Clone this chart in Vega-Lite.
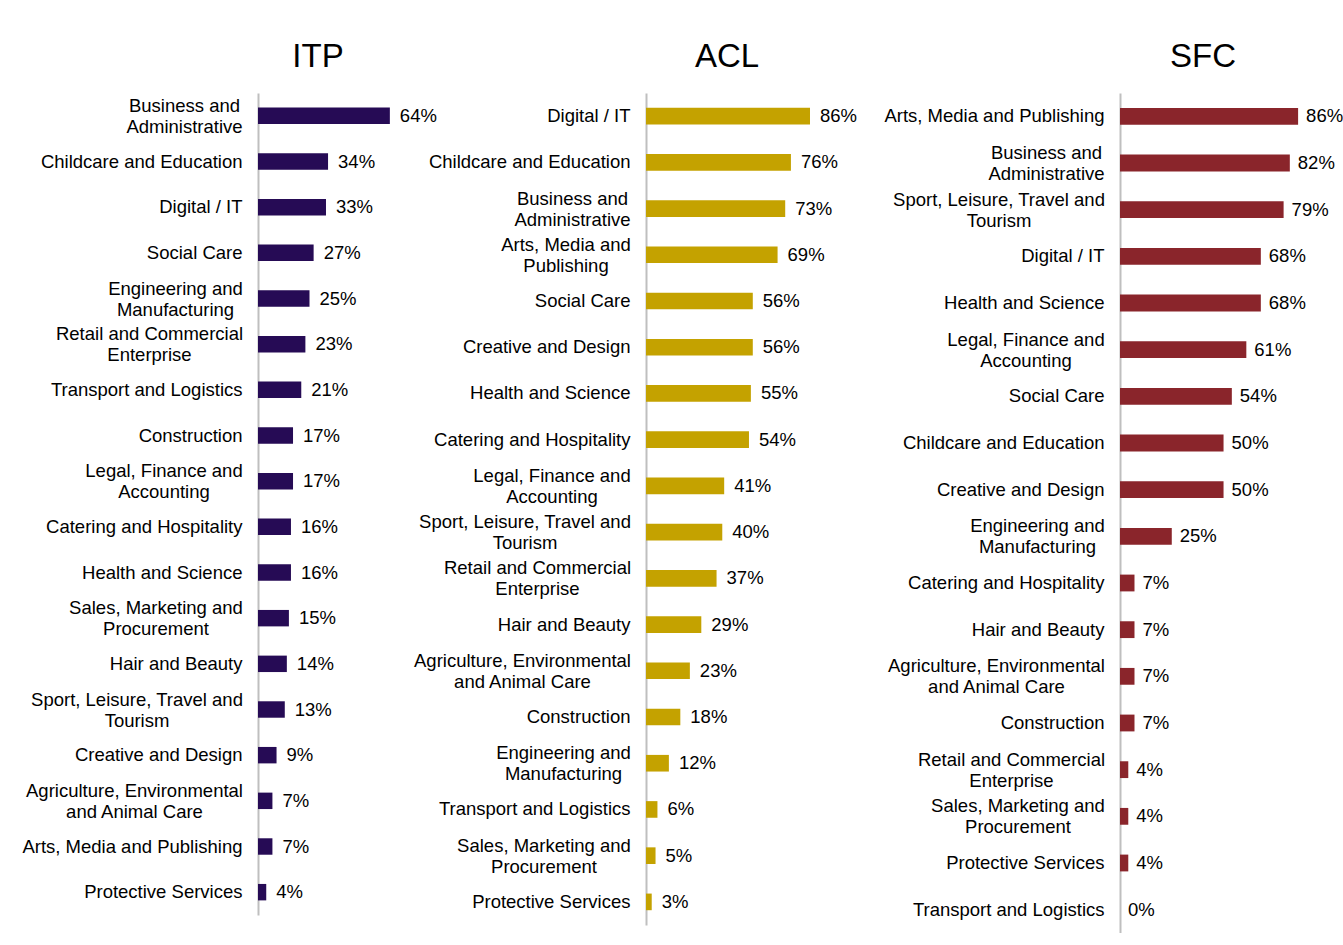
{
  "$schema": "https://vega.github.io/schema/vega-lite/v6.json",
  "padding": {"left": 21, "top": 41, "right": 0, "bottom": 0},
  "background": "white",
  "bounds": "flush",
  "spacing": 60,
  "data": {"values": [
    {"provider": "ITP", "area": "Business and Administrative", "label": "Business and\nAdministrative", "share": 0.64},
    {"provider": "ITP", "area": "Childcare and Education", "label": "Childcare and Education", "share": 0.34},
    {"provider": "ITP", "area": "Digital / IT", "label": "Digital / IT", "share": 0.33},
    {"provider": "ITP", "area": "Social Care", "label": "Social Care", "share": 0.27},
    {"provider": "ITP", "area": "Engineering and Manufacturing", "label": "Engineering and\nManufacturing", "share": 0.25},
    {"provider": "ITP", "area": "Retail and Commercial Enterprise", "label": "Retail and Commercial\nEnterprise", "share": 0.23},
    {"provider": "ITP", "area": "Transport and Logistics", "label": "Transport and Logistics", "share": 0.21},
    {"provider": "ITP", "area": "Construction", "label": "Construction", "share": 0.17},
    {"provider": "ITP", "area": "Legal, Finance and Accounting", "label": "Legal, Finance and\nAccounting", "share": 0.17},
    {"provider": "ITP", "area": "Catering and Hospitality", "label": "Catering and Hospitality", "share": 0.16},
    {"provider": "ITP", "area": "Health and Science", "label": "Health and Science", "share": 0.16},
    {"provider": "ITP", "area": "Sales, Marketing and Procurement", "label": "Sales, Marketing and\nProcurement", "share": 0.15},
    {"provider": "ITP", "area": "Hair and Beauty", "label": "Hair and Beauty", "share": 0.14},
    {"provider": "ITP", "area": "Sport, Leisure, Travel and Tourism", "label": "Sport, Leisure, Travel and\nTourism", "share": 0.13},
    {"provider": "ITP", "area": "Creative and Design", "label": "Creative and Design", "share": 0.09},
    {"provider": "ITP", "area": "Agriculture, Environmental and Animal Care", "label": "Agriculture, Environmental\nand Animal Care", "share": 0.07},
    {"provider": "ITP", "area": "Arts, Media and Publishing", "label": "Arts, Media and Publishing", "share": 0.07},
    {"provider": "ITP", "area": "Protective Services", "label": "Protective Services", "share": 0.04},

    {"provider": "ACL", "area": "Digital / IT", "label": "Digital / IT", "share": 0.86},
    {"provider": "ACL", "area": "Childcare and Education", "label": "Childcare and Education", "share": 0.76},
    {"provider": "ACL", "area": "Business and Administrative", "label": "Business and\nAdministrative", "share": 0.73},
    {"provider": "ACL", "area": "Arts, Media and Publishing", "label": "Arts, Media and\nPublishing", "share": 0.69},
    {"provider": "ACL", "area": "Social Care", "label": "Social Care", "share": 0.56},
    {"provider": "ACL", "area": "Creative and Design", "label": "Creative and Design", "share": 0.56},
    {"provider": "ACL", "area": "Health and Science", "label": "Health and Science", "share": 0.55},
    {"provider": "ACL", "area": "Catering and Hospitality", "label": "Catering and Hospitality", "share": 0.54},
    {"provider": "ACL", "area": "Legal, Finance and Accounting", "label": "Legal, Finance and\nAccounting", "share": 0.41},
    {"provider": "ACL", "area": "Sport, Leisure, Travel and Tourism", "label": "Sport, Leisure, Travel and\nTourism", "share": 0.40},
    {"provider": "ACL", "area": "Retail and Commercial Enterprise", "label": "Retail and Commercial\nEnterprise", "share": 0.37},
    {"provider": "ACL", "area": "Hair and Beauty", "label": "Hair and Beauty", "share": 0.29},
    {"provider": "ACL", "area": "Agriculture, Environmental and Animal Care", "label": "Agriculture, Environmental\nand Animal Care", "share": 0.23},
    {"provider": "ACL", "area": "Construction", "label": "Construction", "share": 0.18},
    {"provider": "ACL", "area": "Engineering and Manufacturing", "label": "Engineering and\nManufacturing", "share": 0.12},
    {"provider": "ACL", "area": "Transport and Logistics", "label": "Transport and Logistics", "share": 0.06},
    {"provider": "ACL", "area": "Sales, Marketing and Procurement", "label": "Sales, Marketing and\nProcurement", "share": 0.05},
    {"provider": "ACL", "area": "Protective Services", "label": "Protective Services", "share": 0.03},

    {"provider": "SFC", "area": "Arts, Media and Publishing", "label": "Arts, Media and Publishing", "share": 0.86},
    {"provider": "SFC", "area": "Business and Administrative", "label": "Business and\nAdministrative", "share": 0.82},
    {"provider": "SFC", "area": "Sport, Leisure, Travel and Tourism", "label": "Sport, Leisure, Travel and\nTourism", "share": 0.79},
    {"provider": "SFC", "area": "Digital / IT", "label": "Digital / IT", "share": 0.68},
    {"provider": "SFC", "area": "Health and Science", "label": "Health and Science", "share": 0.68},
    {"provider": "SFC", "area": "Legal, Finance and Accounting", "label": "Legal, Finance and\nAccounting", "share": 0.61},
    {"provider": "SFC", "area": "Social Care", "label": "Social Care", "share": 0.54},
    {"provider": "SFC", "area": "Childcare and Education", "label": "Childcare and Education", "share": 0.50},
    {"provider": "SFC", "area": "Creative and Design", "label": "Creative and Design", "share": 0.50},
    {"provider": "SFC", "area": "Engineering and Manufacturing", "label": "Engineering and\nManufacturing", "share": 0.25},
    {"provider": "SFC", "area": "Catering and Hospitality", "label": "Catering and Hospitality", "share": 0.07},
    {"provider": "SFC", "area": "Hair and Beauty", "label": "Hair and Beauty", "share": 0.07},
    {"provider": "SFC", "area": "Agriculture, Environmental and Animal Care", "label": "Agriculture, Environmental\nand Animal Care", "share": 0.07},
    {"provider": "SFC", "area": "Construction", "label": "Construction", "share": 0.07},
    {"provider": "SFC", "area": "Retail and Commercial Enterprise", "label": "Retail and Commercial\nEnterprise", "share": 0.04},
    {"provider": "SFC", "area": "Sales, Marketing and Procurement", "label": "Sales, Marketing and\nProcurement", "share": 0.04},
    {"provider": "SFC", "area": "Protective Services", "label": "Protective Services", "share": 0.04},
    {"provider": "SFC", "area": "Transport and Logistics", "label": "Transport and Logistics", "share": 0.00}
  ]},
  "hconcat": [
    {
      "title": {"text": "ITP", "dx": -104},
      "width": 328,
      "height": 822,
      "transform": [{"filter": "datum.provider === 'ITP'"}],
      "encoding": {
        "y": {"field": "label", "type": "nominal", "sort": null,
              "scale": {"paddingInner": 0.64, "paddingOuter": 0.32},
              "axis": {"title": null}},
        "x": {"field": "share", "type": "quantitative", "scale": {"domain": [0, 1.592], "nice": false}, "axis": null}
      },
      "layer": [
        {"mark": {"type": "bar", "color": "#260b55"}},
        {"mark": {"type": "text", "align": "left", "baseline": "middle", "dx": 10, "fontSize": 18.5, "color": "#000000"},
         "encoding": {"text": {"field": "share", "type": "quantitative", "format": ".0%"}}}
      ]
    },
    {
      "title": {"text": "ACL", "dx": -126},
      "width": 414,
      "height": 832,
      "transform": [{"filter": "datum.provider === 'ACL'"}],
      "encoding": {
        "y": {"field": "label", "type": "nominal", "sort": null,
              "scale": {"paddingInner": 0.64, "paddingOuter": 0.32},
              "axis": {"title": null}},
        "x": {"field": "share", "type": "quantitative", "scale": {"domain": [0, 2.171], "nice": false}, "axis": null}
      },
      "layer": [
        {"mark": {"type": "bar", "color": "#c4a200"}},
        {"mark": {"type": "text", "align": "left", "baseline": "middle", "dx": 10, "fontSize": 18.5, "color": "#000000"},
         "encoding": {"text": {"field": "share", "type": "quantitative", "format": ".0%"}}}
      ]
    },
    {
      "title": {"text": "SFC", "dx": -22},
      "width": 210,
      "height": 840,
      "transform": [{"filter": "datum.provider === 'SFC'"}],
      "encoding": {
        "y": {"field": "label", "type": "nominal", "sort": null,
              "scale": {"paddingInner": 0.64, "paddingOuter": 0.32},
              "axis": {"title": null}},
        "x": {"field": "share", "type": "quantitative", "scale": {"domain": [0, 1.014], "nice": false}, "axis": null}
      },
      "layer": [
        {"mark": {"type": "bar", "color": "#8a252b"}},
        {"mark": {"type": "text", "align": "left", "baseline": "middle", "dx": 8, "fontSize": 18.5, "color": "#000000"},
         "encoding": {"text": {"field": "share", "type": "quantitative", "format": ".0%"}}}
      ]
    }
  ],
  "config": {
    "font": "Liberation Sans",
    "view": {"stroke": null},
    "title": {"fontSize": 33, "fontWeight": "normal", "color": "#000000", "anchor": "middle", "offset": 19, "font": "Liberation Sans"},
    "axisY": {
      "domain": true, "domainColor": "#bfbfbf", "domainWidth": 2,
      "ticks": false, "grid": false,
      "labelFont": "Liberation Sans", "labelFontSize": 18.5, "labelColor": "#000000",
      "labelLimit": 400, "labelLineHeight": 21,
      "labelExpr": "split(datum.label, '\\n')",
      "labelOffset": {"condition": {"test": "indexof(datum.value, '\\n') >= 0", "value": -10}, "value": 0},
      "labelAlign": {"condition": {"test": "indexof(datum.value, '\\n') >= 0", "value": "center"}, "value": "right"},
      "labelPadding": {"condition": [
        {"test": "indexof(datum.value, 'Business and\\n') === 0", "value": 74},
        {"test": "indexof(datum.value, 'Engineering and\\n') === 0", "value": 83},
        {"test": "indexof(datum.value, 'Retail and Commercial\\n') === 0", "value": 109},
        {"test": "indexof(datum.value, 'Legal, Finance and\\n') === 0", "value": 94.5},
        {"test": "indexof(datum.value, 'Sales, Marketing and\\n') === 0", "value": 102.5},
        {"test": "indexof(datum.value, 'Sport, Leisure, Travel and\\n') === 0", "value": 121.5},
        {"test": "indexof(datum.value, 'Agriculture, Environmental\\n') === 0", "value": 124},
        {"test": "indexof(datum.value, 'Arts, Media and\\n') === 0", "value": 80.5}
      ], "value": 16}
    }
  }
}
